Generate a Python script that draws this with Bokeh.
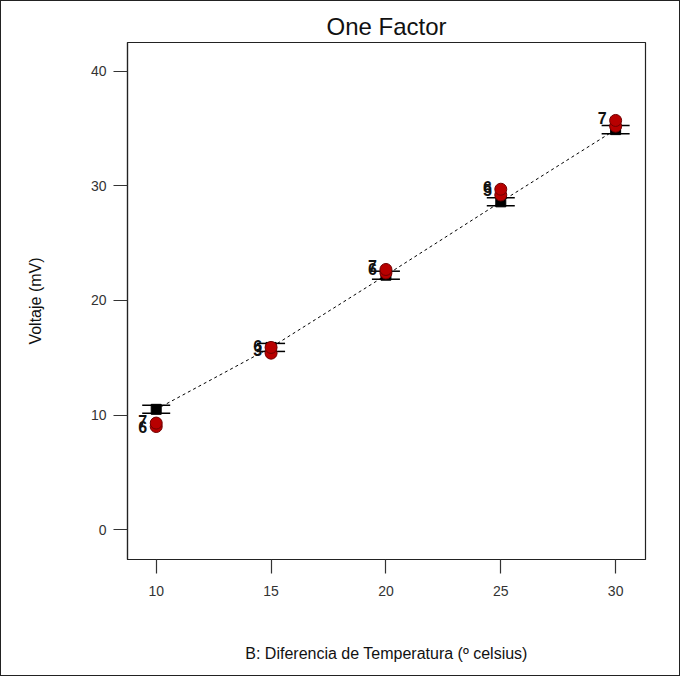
from bokeh.plotting import figure
from bokeh.embed import file_html
from bokeh.resources import INLINE
from bokeh.core.properties import value
from bokeh.models import FixedTicker, Range1d

# ---- data ----
temps = [10, 15, 20, 25, 30]
predicted = [10.5, 15.9, 22.2, 28.6, 34.9]
lsd_half = [0.35, 0.35, 0.35, 0.35, 0.35]

actual_x = [10, 10, 15, 15, 20, 20, 25, 25, 30, 30]
actual_y = [9.0, 9.3, 15.4, 15.9, 22.4, 22.7, 29.2, 29.7, 35.2, 35.7]

label_x = [10, 10, 15, 15, 20, 20, 25, 25, 30]
label_y = [9.5, 9.0, 16.0, 15.7, 23.0, 22.7, 29.9, 29.6, 35.9]
label_text = ["7", "6", "6", "3", "7", "6", "6", "5", "7"]

x_ticks = [10, 15, 20, 25, 30]
y_ticks = [0, 10, 20, 30, 40]

FONT = "Liberation Sans"

p = figure(width=680, height=676, output_backend="svg", toolbar_location=None,
           x_range=Range1d(8.75, 31.3), y_range=Range1d(-2.6, 42.5),
           title="One Factor",
           min_border_left=126, min_border_right=36, min_border_top=41,
           min_border_bottom=118)

p.styles = {"border": "1px solid #222"}

p.title.align = "center"
p.title.text_font = FONT
p.title.text_font_size = "24px"
p.title.text_font_style = "normal"
p.title.text_color = "#111"
p.title.offset = 0
p.title.standoff = 6

p.outline_line_color = "#222"
p.outline_line_width = 1.2
p.grid.visible = False
p.background_fill_color = "white"
p.border_fill_color = "white"

for ax in (p.xaxis[0], p.yaxis[0]):
    ax.axis_line_color = "#222"
    ax.axis_line_width = 1.2
    ax.major_tick_line_color = "#333"
    ax.major_tick_line_width = 1.2
    ax.major_tick_out = 14
    ax.major_tick_in = 0
    ax.minor_tick_line_color = None
    ax.major_label_text_font = FONT
    ax.major_label_text_font_size = "14px"
    ax.major_label_text_color = "#333"
    ax.axis_label_text_font = FONT
    ax.axis_label_text_font_size = "16px"
    ax.axis_label_text_font_style = "normal"
    ax.axis_label_text_color = "#111"

p.xaxis.ticker = FixedTicker(ticks=x_ticks)
p.yaxis.ticker = FixedTicker(ticks=y_ticks)
p.xaxis.axis_label = "B: Diferencia de Temperatura (º celsius)"
p.yaxis.axis_label = "Voltaje (mV)"
p.xaxis.major_label_standoff = 12
p.yaxis.major_label_standoff = 7
p.xaxis.axis_label_standoff = 46
p.yaxis.axis_label_standoff = 44

# model line
p.line(temps, predicted, line_color="black", line_width=1, line_dash="3 3")

# LSD bars
lo = [m - h for m, h in zip(predicted, lsd_half)]
hi = [m + h for m, h in zip(predicted, lsd_half)]
p.segment(x0=temps, y0=lo, x1=temps, y1=hi, line_color="black", line_width=1.5)
p.scatter(temps, lo, marker="dash", size=28, line_color="black", line_width=1.5)
p.scatter(temps, hi, marker="dash", size=28, line_color="black", line_width=1.5)

# predicted squares
p.scatter(temps, predicted, marker="square", size=10, fill_color="black",
          line_color="black")

# actual points
p.scatter(actual_x, actual_y, marker="circle", size=12, fill_color="#b80000",
          line_color="#700000", line_width=1)

# replicate count labels
p.text(label_x, label_y, text=label_text, x_offset=-9, text_align="right",
       text_baseline="middle", text_font=value(FONT), text_font_style="bold",
       text_font_size="16px", text_color="#111")

open("out.html", "w").write(file_html(p, INLINE))
